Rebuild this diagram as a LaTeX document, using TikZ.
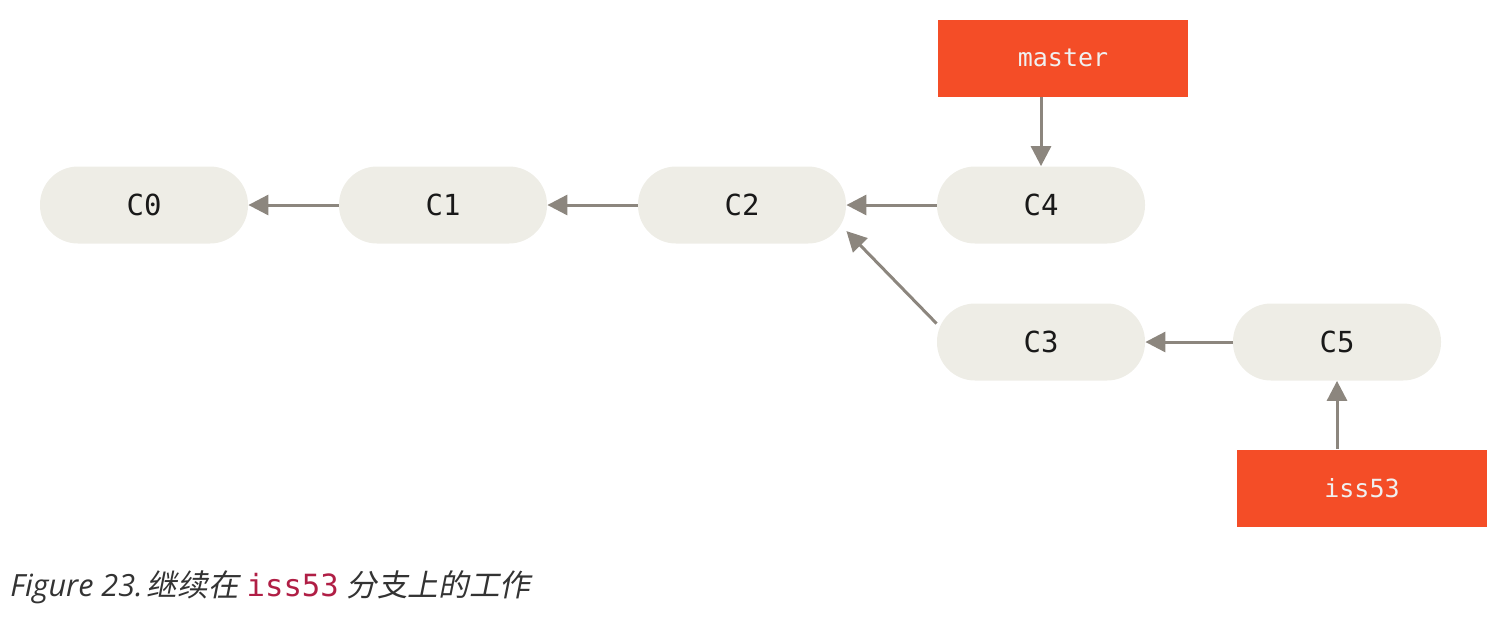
\documentclass[tikz,border=0pt]{standalone}
\usepackage{fontspec}
\setmainfont{Open Sans}
\setmonofont{DejaVu Sans Mono}
\newfontfamily\cjk[FakeSlant=0.2]{Noto Sans CJK SC}
\usetikzlibrary{arrows.meta}
\definecolor{commitfill}{HTML}{EEEDE6}
\definecolor{branchfill}{HTML}{F44D27}
\definecolor{arrowgray}{HTML}{8C867E}
\definecolor{captiongray}{HTML}{333333}
\definecolor{codered}{HTML}{B01E45}
\begin{document}
\begin{tikzpicture}[x=0.5pt,y=-0.5pt, commit/.style={fill=commitfill,rectangle,rounded corners=19pt,minimum width=104pt,minimum height=38.5pt,inner sep=0pt,font=\ttfamily\fontsize{14.5}{14.5}\selectfont,text=black!90}, branch/.style={fill=branchfill,rectangle,minimum width=125pt,minimum height=38.5pt,inner sep=0pt,font=\ttfamily\fontsize{12.5}{12.5}\selectfont,text=white!94!black}, parent/.style={draw=arrowgray,line width=1.5pt,-{Triangle[length=10pt,width=10pt]}}]
\useasboundingbox (0,0) rectangle (1499,617);
\node[commit] (c0) at (144,205) {C0};
\node[commit] (c1) at (443,205) {C1};
\node[commit] (c2) at (742,205) {C2};
\node[commit] (c4) at (1041,205) {C4};
\node[commit] (c3) at (1041,342) {C3};
\node[commit] (c5) at (1337,342) {C5};
\node[branch] (master) at (1063,58) {master};
\node[branch] (iss53) at (1362,488) {iss53};
\draw[parent] (c1) -- (c0);
\draw[parent] (c2) -- (c1);
\draw[parent] (c4) -- (c2);
\draw[parent] (c3.170) -- (c2.-14);
\draw[parent] (c5) -- (c3);
\draw[parent] (master.south -| c4.north) -- (c4.north);
\draw[parent] (iss53.north -| c5.south) -- (c5.south);
\node[anchor=base west,inner sep=0pt,text=captiongray,font=\fontsize{15.3}{15.3}\selectfont\itshape] (caption) at (10,596) {Figure 23.\kern2pt{\cjk 继续在} {\ttfamily\upshape\color{codered}iss53} {\cjk 分支上的工作}};
\end{tikzpicture}
\end{document}
